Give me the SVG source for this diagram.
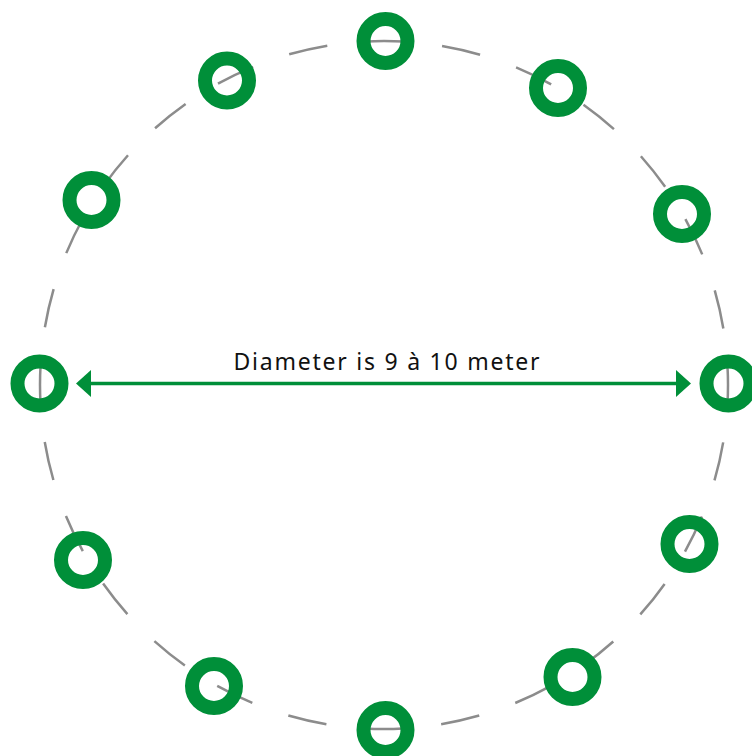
<svg xmlns="http://www.w3.org/2000/svg" width="752" height="756" viewBox="0 0 752 756">
  <style>
    .ring { fill: none; stroke: #008F39; stroke-width: 14; }
    .dash { fill: none; stroke: #8C8C8C; stroke-width: 2.5; stroke-dasharray: 39 38.194; stroke-dashoffset: 19.5; }
    .arrow { stroke: #008F39; stroke-width: 3.5; fill: none; }
    .label { font-family: "Noto Sans", "Liberation Sans", sans-serif; font-size: 23px; fill: #111111; text-anchor: middle; }
  </style>
  <defs>
    <marker id="head" markerUnits="userSpaceOnUse" markerWidth="16" markerHeight="28" refX="2" refY="13.5" orient="auto-start-reverse">
      <path d="M0,0 L15,13.5 L0,27 Z" fill="#008F39"/>
    </marker>
  </defs>
  <rect width="752" height="756" fill="#FFFFFF"/>
  <g id="connectors">
    <circle class="dash" cx="384" cy="385" r="344"/>
    <line class="arrow" x1="89" y1="383.5" x2="678" y2="383.5" marker-start="url(#head)" marker-end="url(#head)"/>
  </g>
  <g id="label">
    <text class="label" x="386.5" y="370" textLength="306" lengthAdjust="spacing">Diameter is 9 à 10 meter</text>
  </g>
  <g id="ring-top"><circle class="ring" cx="385.5" cy="41" r="22"/></g>
  <g id="ring-30"><circle class="ring" cx="558" cy="88" r="22"/></g>
  <g id="ring-60"><circle class="ring" cx="682" cy="214" r="22"/></g>
  <g id="ring-right"><circle class="ring" cx="728.5" cy="383.5" r="22"/></g>
  <g id="ring-120"><circle class="ring" cx="689.5" cy="544" r="22"/></g>
  <g id="ring-150"><circle class="ring" cx="572.5" cy="677" r="22"/></g>
  <g id="ring-bottom"><circle class="ring" cx="385.5" cy="730" r="22"/></g>
  <g id="ring-210"><circle class="ring" cx="214" cy="686" r="22"/></g>
  <g id="ring-240"><circle class="ring" cx="83" cy="560" r="22"/></g>
  <g id="ring-left"><circle class="ring" cx="39.5" cy="383.5" r="22"/></g>
  <g id="ring-300"><circle class="ring" cx="91.5" cy="200" r="22"/></g>
  <g id="ring-330"><circle class="ring" cx="227" cy="80.5" r="22"/></g>
</svg>
